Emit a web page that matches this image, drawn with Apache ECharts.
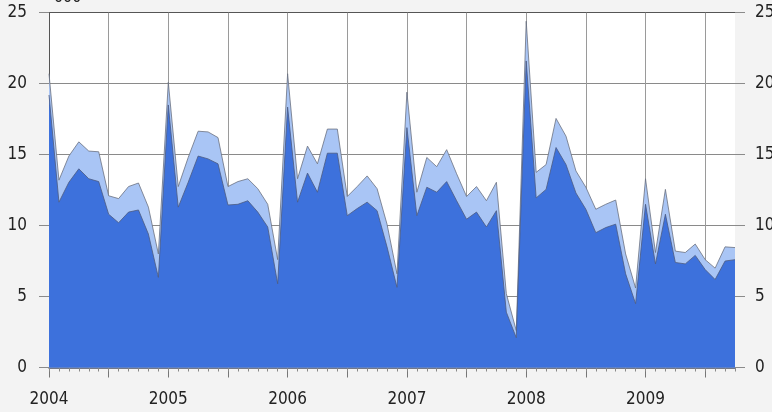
<!DOCTYPE html>
<html><head><meta charset="utf-8">
<script src="https://cdn.jsdelivr.net/npm/echarts@6/dist/echarts.min.js"></script>
<style>html,body{margin:0;padding:0;background:#f3f3f3}#c{width:772px;height:412px}</style>
</head><body><div id="c"></div>
<script>
// Years and months shown on the time axis
const years = ['2004', '2005', '2006', '2007', '2008', '2009'];
const monthNames = ['01','02','03','04','05','06','07','08','09','10','11','12'];
const lastYearMonths = 10; // data ends Oct 2009

// Lower (dark blue) component, monthly
const darkValues = [
  19.2, 11.65, 13.05, 14.0, 13.3, 13.1, 10.8, 10.2, 10.95, 11.1, 9.4, 6.35,
  18.5, 11.3, 13.05, 14.9, 14.7, 14.35, 11.45, 11.5, 11.75, 10.95, 9.9, 5.9,
  18.35, 11.65, 13.7, 12.35, 15.1, 15.1, 10.7, 11.2, 11.65, 11.05, 8.5, 5.65,
  16.9, 10.7, 12.7, 12.35, 13.1, 11.75, 10.45, 10.95, 9.9, 11.05, 3.9, 2.1,
  21.6, 11.95, 12.55, 15.5, 14.3, 12.3, 11.15, 9.5, 9.86, 10.1, 6.6, 4.5,
  11.5, 7.3, 10.8, 7.4, 7.3, 7.9, 6.9, 6.2, 7.5, 7.6
];
// Total (top of light blue band), monthly
const totalValues = [
  20.7, 13.2, 14.9, 15.9, 15.25, 15.2, 12.1, 11.9, 12.75, 13.0, 11.3, 8.0,
  20.1, 12.75, 14.8, 16.65, 16.6, 16.2, 12.75, 13.1, 13.3, 12.6, 11.5, 7.6,
  20.7, 13.3, 15.6, 14.35, 16.8, 16.8, 12.05, 12.75, 13.5, 12.6, 10.1, 6.6,
  19.4, 12.35, 14.8, 14.15, 15.35, 13.65, 12.05, 12.75, 11.75, 13.05, 5.2, 2.6,
  24.4, 13.75, 14.3, 17.55, 16.3, 13.85, 12.7, 11.15, 11.5, 11.8, 8.0, 5.6,
  13.3, 8.1, 12.55, 8.2, 8.1, 8.7, 7.6, 7.0, 8.5, 8.45
];
const yTicks = [0, 5, 10, 15, 20, 25];

const categories = [];
years.forEach((y, yi) => {
  const n = yi === years.length - 1 ? lastYearMonths : 12;
  for (let m = 0; m < n; m++) categories.push(y + '-' + monthNames[m]);
});

const FONT = "'DejaVu Sans Condensed','DejaVu Sans',sans-serif";
const STRETCH = 'condensed';
const chart = echarts.init(document.getElementById('c'), null, {renderer: 'canvas'});
chart.setOption({
  backgroundColor: '#f3f3f3',
  animation: false,
  graphic: [{
    type: 'text', left: 50, top: -10,
    style: {text: "'000", fontSize: 16, fontFamily: FONT, fontStyle: STRETCH, fill: '#222'}
  }],
  grid: {left: 49, right: 37, top: 12.7, bottom: 44.5, show: true, backgroundColor: '#ffffff', borderWidth: 0, outerBoundsMode: 'none', containLabel: false},
  xAxis: [{
    type: 'category', data: categories, boundaryGap: false,
    axisLine: {show: true, lineStyle: {color: '#4a5066', width: 1.5}},
    axisTick: {show: true, length: 10, interval: (i) => i % 6 === 0, lineStyle: {color: '#777'}},
    axisLabel: {
      interval: (i) => i % 12 === 0, margin: 24,
      formatter: (v) => v.slice(5) === '01' ? v.slice(0, 4) : '',
      color: '#222', fontSize: 17, fontFamily: FONT, fontStyle: STRETCH
    },
    splitLine: {show: true, interval: (i) => i % 6 === 0, lineStyle: {color: '#9a9a9a', width: 1}}
  }, {
    type: 'category', data: categories, boundaryGap: false, position: 'bottom',
    axisLine: {show: false},
    axisTick: {show: true, length: 4, interval: 0, lineStyle: {color: '#888'}},
    axisLabel: {show: false},
    splitLine: {show: false}
  }],
  yAxis: [{
    type: 'value', min: yTicks[0], max: yTicks[yTicks.length - 1], interval: 5, position: 'left',
    axisLine: {show: true, lineStyle: {color: '#555', width: 1}},
    axisTick: {show: true, length: 10, lineStyle: {color: '#8a8a8a'}},
    axisLabel: {margin: 22, color: '#222', fontSize: 17, fontFamily: FONT, fontStyle: STRETCH},
    splitLine: {show: true, lineStyle: {color: ['#8a8a8a','#8a8a8a','#8a8a8a','#8a8a8a','#8a8a8a','#555'], width: 1}}
  }, {
    type: 'value', min: yTicks[0], max: yTicks[yTicks.length - 1], interval: 5, position: 'right',
    axisLine: {show: false},
    axisTick: {show: true, length: 10, lineStyle: {color: '#8a8a8a'}},
    axisLabel: {margin: 20, color: '#222', fontSize: 17, fontFamily: FONT, fontStyle: STRETCH},
    splitLine: {show: false}
  }],
  series: [{
    name: 'Total', type: 'line', data: totalValues, symbol: 'none', z: 2,
    lineStyle: {color: '#6b7180', width: 0.8},
    areaStyle: {color: '#a9c5f5', opacity: 1}
  }, {
    name: 'Lower', type: 'line', data: darkValues, symbol: 'none', z: 3,
    lineStyle: {color: '#4b5a80', width: 0.8},
    areaStyle: {color: '#3d71dc', opacity: 1}
  }]
});
</script></body></html>
